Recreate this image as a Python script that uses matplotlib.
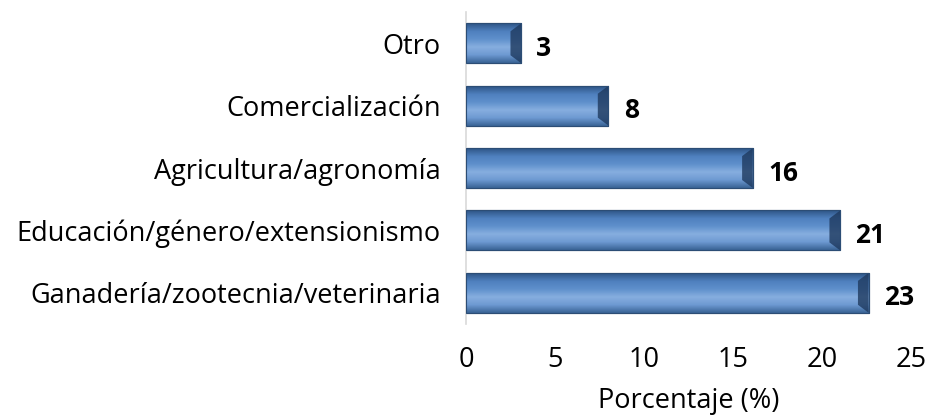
import numpy as np
import matplotlib
matplotlib.use('Agg')
from matplotlib import pyplot as plt
from matplotlib.patches import Polygon
from matplotlib.colors import LinearSegmentedColormap

# data
categories = ['Ganadería/zootecnia/veterinaria',
              'Educación/género/extensionismo',
              'Agricultura/agronomía',
              'Comercialización',
              'Otro']
values = [22.6, 21.0, 16.1, 8.0, 3.1]
labels = ['23', '21', '16', '8', '3']
xticks = [0, 5, 10, 15, 20, 25]

plt.rcParams['font.family'] = ['Open Sans', 'DejaVu Sans']

fig = plt.figure(figsize=(9.3, 4.17), dpi=100)
ax = fig.add_axes([0.501, 0.223, 0.479, 0.748])

ypos = np.arange(len(categories))
bars = ax.barh(ypos, values, height=0.64, color='#4F81BD',
               edgecolor='#2C4D75', linewidth=0.8, zorder=2)

# vertical gradient + bevel on each bar
cmap = LinearSegmentedColormap.from_list(
    'bev', ['#3A6496', '#6E9AD2', '#86AEDF', '#5F90CC', '#4F80BE', '#2E5586'])
grad = np.linspace(0, 1, 64).reshape(-1, 1)
for bar in bars:
    x0, y0 = bar.get_x(), bar.get_y()
    w, h = bar.get_width(), bar.get_height()
    im = ax.imshow(grad, cmap=cmap, aspect='auto', origin='upper',
                   extent=[x0, x0 + w, y0 + h, y0], zorder=2.5)
    im.set_clip_path(bar)
    d = 0.6
    dy = 0.2 * h
    bev = Polygon([[x0 + w - d, y0 + dy], [x0 + w, y0],
                   [x0 + w, y0 + h], [x0 + w - d, y0 + h - dy]],
                  closed=True, facecolor='#1F3A5F', alpha=0.8,
                  edgecolor='none', zorder=2.6)
    ax.add_patch(bev)
    ax.add_patch(Polygon([[x0, y0], [x0 + w, y0], [x0 + w, y0 + h],
                          [x0, y0 + h]], closed=True, fill=False,
                         edgecolor='#2C4D75', linewidth=0.8, zorder=2.7))

for yy, v, lab in zip(ypos, values, labels):
    ax.text(v + 0.85, yy - 0.08, lab, va='center', ha='left',
            fontsize=19, fontweight='bold', color='black')

ax.set_xlim(0, 25)
ax.set_ylim(-0.5, len(categories) - 0.5)
ax.set_yticks(ypos)
ax.set_yticklabels(categories, fontsize=19.5)
ax.set_xticks(xticks)
ax.set_xticklabels([str(t) for t in xticks], fontsize=19.5)
ax.tick_params(axis='both', length=0)
ax.tick_params(axis='y', pad=18)
ax.tick_params(axis='x', pad=16)
ax.set_xlabel('Porcentaje (%)', fontsize=19.5, labelpad=9)

for side in ['top', 'right', 'bottom']:
    ax.spines[side].set_visible(False)
ax.spines['left'].set_color('#D9D9D9')
ax.spines['left'].set_linewidth(1.2)

fig.savefig('out.png', dpi=100, facecolor='white')
